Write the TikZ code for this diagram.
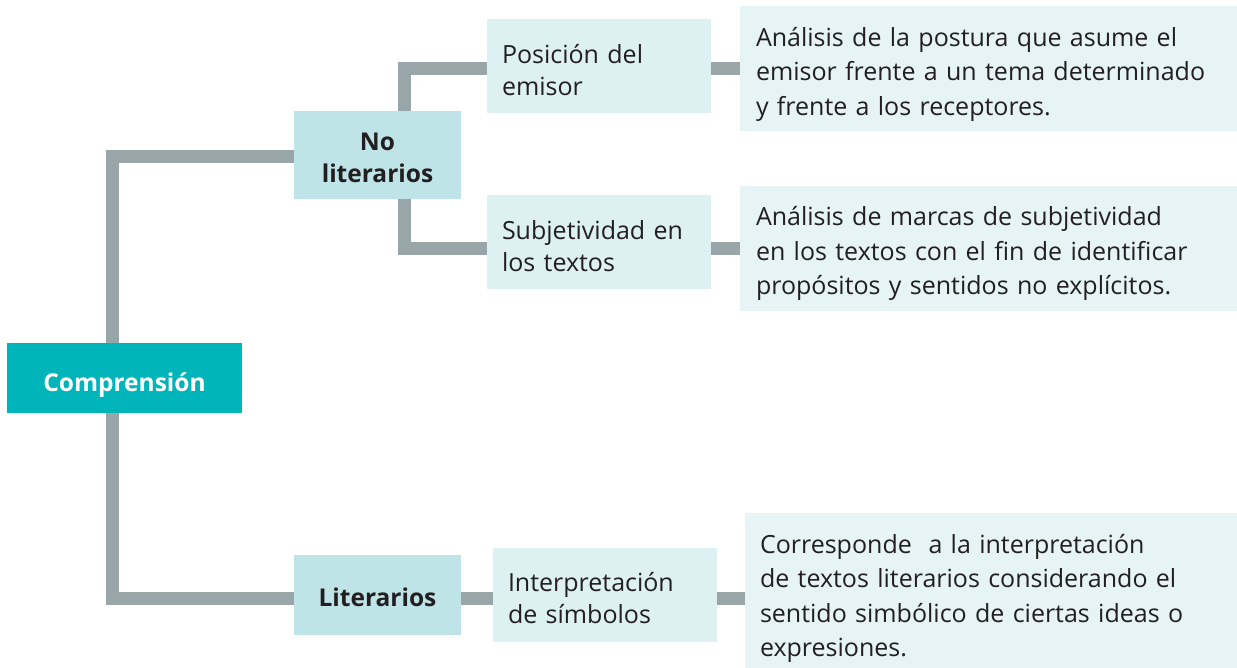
\documentclass[tikz,border=0pt]{standalone}
\usepackage{fontspec}
\setmainfont{Open Sans}
\definecolor{teal}{HTML}{00B5BA}
\definecolor{midbox}{HTML}{BEE4E7}
\definecolor{lightbox}{HTML}{DDF0F2}
\definecolor{descbox}{HTML}{E6F4F5}
\definecolor{conn}{HTML}{98A6A9}
\definecolor{ink}{HTML}{231F20}
\begin{document}
\begin{tikzpicture}[x=1pt,y=-1pt,
  base/.style={inner sep=0pt,outer sep=0pt,draw=none,font=\fontsize{25}{32}\selectfont,text=ink},
  strutted/.style={execute at begin node={\rule[-8pt]{0pt}{#1}},execute at end node={\rule[-8pt]{0pt}{8pt}}},
  rootbox/.style={base,fill=teal,text=white,font=\fontsize{24.5}{32}\selectfont\bfseries,align=center},
  catbox/.style={base,fill=midbox,font=\fontsize{24.5}{32}\selectfont\bfseries,align=center},
  subbox/.style={base,fill=lightbox,align=left,minimum width=224pt,minimum height=94pt,text width=194pt},
  descbox/.style={base,fill=descbox,align=left,font=\fontsize{25}{34.5}\selectfont},
  link/.style={draw=conn,line width=13pt,line join=miter}
]
\useasboundingbox (0,0) rectangle (1237,668);
\node[rootbox,minimum width=235pt,minimum height=70pt,text width=235pt,strutted=43.4pt] (comp) at (124.5,378) {Comprensión};
\node[catbox,minimum width=167pt,minimum height=88pt,text width=167pt,strutted=39.4pt] (nolit) at (377.5,155) {No\\literarios};
\node[catbox,minimum width=167pt,minimum height=80pt,text width=167pt,strutted=39.4pt] (lit) at (377.5,595) {Literarios};
\node[subbox,strutted=42.6pt] (pos) at (599,66) {Posición del\\emisor};
\node[subbox,strutted=42.6pt] (subj) at (599,242) {Subjetividad en\\los textos};
\node[subbox,strutted=40pt] (interp) at (605,595) {Interpretación\\de símbolos};
\node[descbox,minimum width=497pt,minimum height=125pt,text width=465pt,strutted=41pt] (d1) at (988.5,68.5) {Análisis de la postura que asume el\\emisor frente a un tema determinado\\y frente a los receptores.};
\node[descbox,minimum width=497pt,minimum height=125pt,text width=465pt,strutted=40pt] (d2) at (988.5,248.5) {Análisis de marcas de subjetividad\\en los textos con el fin de identificar\\propósitos y sentidos no explícitos.};
\node[descbox,minimum width=492pt,minimum height=155pt,text width=462pt,strutted=44.5pt] (d3) at (991,590.5) {Corresponde\ \ a la interpretación\\de textos literarios considerando el\\sentido simbólico de ciertas ideas o\\expresiones.};
\draw[link] ([xshift=-12pt]comp.north) |- ([yshift=-1.5pt]nolit.west);
\draw[link] ([xshift=-12pt]comp.south) |- ([yshift=-3.5pt]lit.west);
\draw[link] ([xshift=26.5pt]nolit.north) |- ([yshift=-2.5pt]pos.west);
\draw[link] ([xshift=26.5pt]nolit.south) |- ([yshift=-6.5pt]subj.west);
\draw[link] ([yshift=-2.5pt]pos.east) -- ([yshift=-2.5pt]pos.east -| d1.west);
\draw[link] ([yshift=-6.5pt]subj.east) -- ([yshift=-6.5pt]subj.east -| d2.west);
\draw[link] ([yshift=-3.5pt]lit.east) -- ([yshift=-3.5pt]interp.west);
\draw[link] ([yshift=-3.5pt]interp.east) -- ([yshift=-3.5pt]interp.east -| d3.west);
\end{tikzpicture}
\end{document}
